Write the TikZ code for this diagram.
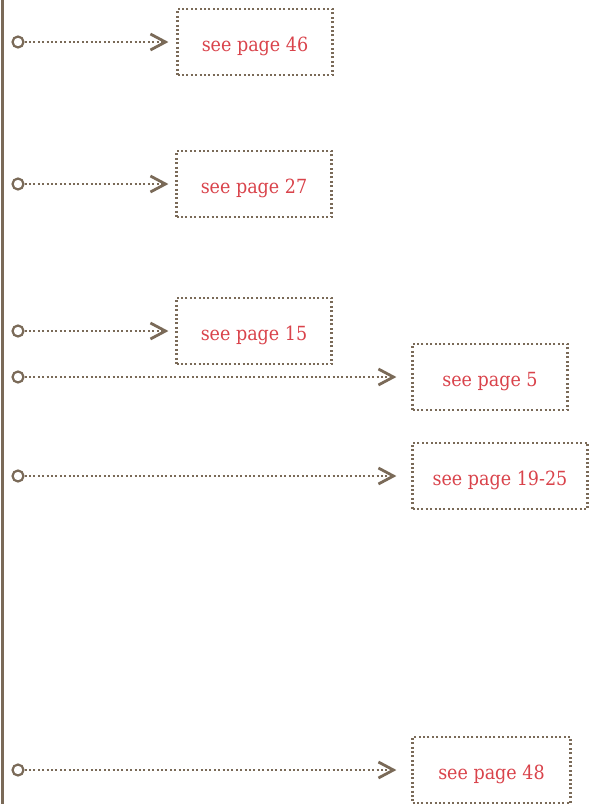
\documentclass[tikz,border=0pt]{standalone}
\usepackage{fontspec}
\setmainfont{DejaVu Serif Condensed}
\usetikzlibrary{arrows.meta}
\definecolor{brn}{HTML}{7A6A58}
\definecolor{rd}{HTML}{D9434B}
\begin{document}
\begin{tikzpicture}[x=1pt,y=-1pt,
  refbox/.style={draw=brn,line width=2.2pt,dash pattern=on 2pt off 2.4pt,
    minimum height=66pt,inner sep=0pt,text height=19pt,text depth=0pt,
    text=rd,font=\fontsize{19.5}{22}\selectfont},
  dot/.style={circle,draw=brn,line width=2.2pt,fill=white,minimum size=11pt,inner sep=0pt},
  conn/.style={draw=brn,line width=2.2pt,dash pattern=on 2pt off 2.4pt,
    -{Straight Barb[length=15pt,width=16pt,line width=2.8pt]}}]
\useasboundingbox (0,0) rectangle (589,804);
\coordinate (top) at (2,0);
\coordinate (bot) at (2,804);
\draw[brn,line width=3pt] (top) -- (bot);
\node[refbox,minimum width=155pt] (b1) at (255,42) {see page 46};
\node[refbox,minimum width=155pt] (b2) at (254,184) {see page 27};
\node[refbox,minimum width=155pt] (b3) at (254,331) {see page 15};
\node[refbox,minimum width=155pt] (b4) at (490,377) {see page 5};
\node[refbox,minimum width=175pt] (b5) at (500,476) {see page 19-25};
\node[refbox,minimum width=158pt] (b6) at (491.5,770) {see page 48};
\node[dot] (d1) at (18,42) {};
\node[dot] (d2) at (18,184) {};
\node[dot] (d3) at (18,331) {};
\node[dot] (d4) at (18,377) {};
\node[dot] (d5) at (18,476) {};
\node[dot] (d6) at (18,770) {};
\draw[conn,shorten >=8pt] (d1) -- (b1);
\draw[conn,shorten >=7pt] (d2) -- (b2);
\draw[conn,shorten >=7pt] (d3) -- (b3);
\draw[conn,shorten >=15pt] (d4) -- (b4);
\draw[conn,shorten >=15pt] (d5) -- (b5);
\draw[conn,shorten >=15pt] (d6) -- (b6);
\end{tikzpicture}
\end{document}
